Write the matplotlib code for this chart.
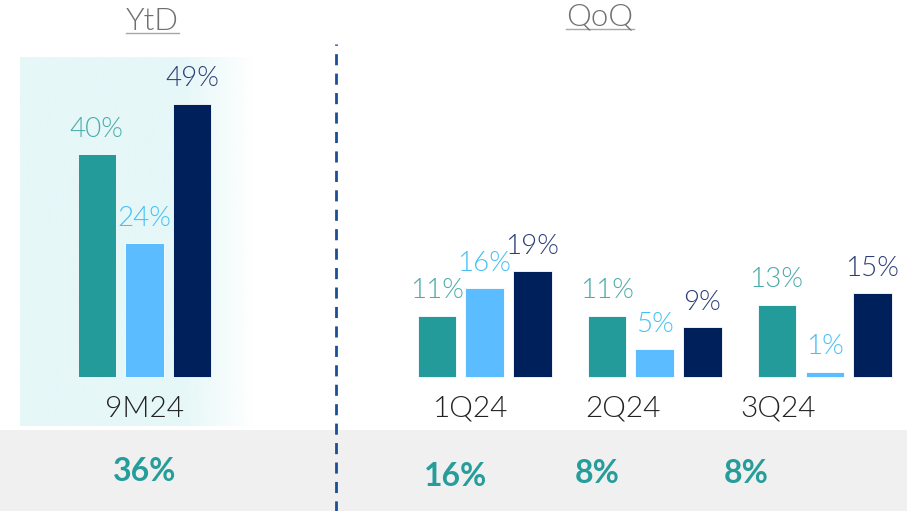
import numpy as np
import matplotlib
matplotlib.use("Agg")
import matplotlib.pyplot as plt
from matplotlib.lines import Line2D
from matplotlib.colors import to_rgb

# ---- data ----
groups = ["9M24", "1Q24", "2Q24", "3Q24"]
group_pos = [0, 2, 3, 4]
series_teal = [40, 11, 11, 13]
series_light = [24, 16, 5, 1]
series_navy = [49, 19, 9, 15]
totals = ["36%", "16%", "8%", "8%"]
total_pos = [0.0, 1.83, 2.66, 3.54]
label_pos = [0.0, 1.92, 2.815, 3.725]
section_titles = ["YtD", "QoQ"]

# ---- style ----
c_teal, c_light, c_navy = "#229b9a", "#5bbcff", "#00205b"
t_teal, t_light, t_navy = "#4aaba8", "#45c0f5", "#2b3d78"
bold_teal = "#259d9a"
FONT = ["Lato", "DejaVu Sans"]
LIGHT = 300

W, H = 907, 511
fig = plt.figure(figsize=(W / 100, H / 100), dpi=100)
ax = fig.add_axes([0, 0, 1, 1])
ax.set_xlim(-0.85, 4.485)
ax.set_ylim(-24.0, 67.6)
ax.axis("off")

bw = 0.224
off = 0.282

# bottom grey band
ax.axhspan(-30, -9.5, color="#f0f0f0", zorder=0, lw=0)

# light cyan panel behind the YtD group, fading out on the right
base = np.array(to_rgb("#e6f7f8"))
nx = 300
xs = np.linspace(0, 1, nx)
alpha = np.clip((1 - xs) / 0.3, 0, 1)
grad = np.ones((1, nx, 4))
grad[..., :3] = base
grad[0, :, 3] = alpha
ax.imshow(grad, extent=(-0.73, 0.64, -8.7, 57.4), aspect="auto",
          interpolation="bilinear", zorder=0.5)

# vertical dashed separator
ax.plot([1.126, 1.126], [-30, 59.7], color="#1a4f95", lw=2,
        dashes=(4, 3), zorder=1)

# bars
for vals, dx, fc in [(series_teal, -off, c_teal),
                     (series_light, 0, c_light),
                     (series_navy, off, c_navy)]:
    ax.bar([p + dx for p in group_pos], vals, width=bw, color=fc,
           edgecolor="white", linewidth=0.6, zorder=2)

# value labels above bars
for vals, dx, tc in [(series_teal, -off, t_teal),
                     (series_light, 0, t_light),
                     (series_navy, off, t_navy)]:
    for p, v in zip(group_pos, vals):
        ax.text(p + dx, v + 2.2, f"{v}%", ha="center", va="bottom",
                fontsize=20, color=tc, family=FONT, fontweight=LIGHT,
                zorder=3)

# category labels
for lp, g in zip(label_pos, groups):
    ax.text(lp, -5.7, g, ha="center", va="center", fontsize=21.5,
            color="#222222", family=FONT, fontweight=LIGHT, zorder=3)

# totals in the grey band
for tp, t, yv in zip(total_pos, totals, [-17.0, -17.8, -17.2, -17.2]):
    ax.text(tp, yv, t, ha="center", va="center", fontsize=23,
            color=bold_teal, family=FONT, fontweight="bold", zorder=3)

# section titles with underline
fig.canvas.draw()
renderer = fig.canvas.get_renderer()
for tx, ty, s in [(152, 21.5, section_titles[0]), (600, 17.0, section_titles[1])]:
    t = fig.text(tx / W, 1 - ty / H, s, ha="center", va="center",
                 fontsize=22.5, color="#707070", family=FONT,
                 fontweight=LIGHT)
    bb = t.get_window_extent(renderer)
    uy = 1 - (ty + 12.0) / H
    fig.add_artist(Line2D([bb.x0 / W, bb.x1 / W], [uy, uy],
                          transform=fig.transFigure, color="#a8a8a8", lw=1.0))

fig.savefig("out.png", dpi=100)
